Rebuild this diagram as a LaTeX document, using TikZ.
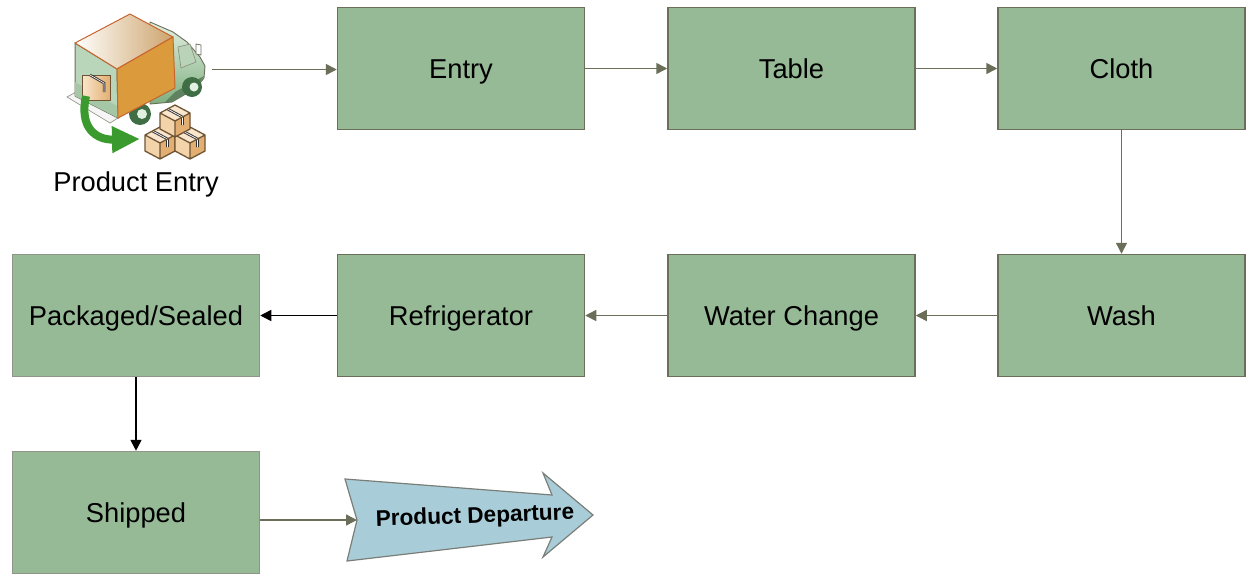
\documentclass[tikz,border=0pt]{standalone}
\usepackage{fontspec}
\setmainfont{Liberation Sans}
\usetikzlibrary{arrows.meta,shapes.geometric}
\definecolor{boxfill}{HTML}{96B996}
\definecolor{boxline}{HTML}{6B6E58}
\definecolor{boxline2}{HTML}{8F9488}
\definecolor{connc}{HTML}{6B6E58}
\definecolor{depfill}{HTML}{A8CDD8}
\definecolor{depline}{HTML}{7A7E78}
\definecolor{orangeE}{HTML}{C8642E}
\definecolor{orangeF}{HTML}{DB9B3C}
\definecolor{tanF}{HTML}{CDA46C}
\definecolor{cabA}{HTML}{E2F0E2}
\definecolor{cabB}{HTML}{7FAF7F}
\definecolor{wheelc}{HTML}{3F6E45}
\definecolor{greenarr}{HTML}{3A9A2E}
\definecolor{crL}{HTML}{F3D3AA}
\definecolor{crR}{HTML}{E3AE72}
\definecolor{crT}{HTML}{F9E6CC}
\definecolor{crE}{HTML}{6F5434}
\tikzset{
  pbox/.style={draw=boxline, line width=1.5pt, fill=boxfill, minimum width=247pt, minimum height=122pt, inner sep=0pt, text height=19.6pt, text depth=0pt, font=\fontsize{27.3}{32}\selectfont},
  pboxg/.style={pbox, draw=boxline2},
  conn/.style={draw=connc, line width=1.5pt, -{Triangle[length=11pt,width=11pt]}},
  connk/.style={draw=black, line width=1.5pt, -{Triangle[length=11pt,width=11pt]}},
  crate/.pic={
    \fill[crL] (-15,8) -- (0,16) -- (0,32) -- (-15,24) -- cycle;
    \fill[crR] (0,16) -- (15,8) -- (15,24) -- (0,32) -- cycle;
    \fill[crT] (0,0) -- (-15,8) -- (0,16) -- (15,8) -- cycle;
    \draw[gray!40!black, line width=2.6pt] (-7.5,4) -- (7.5,12) -- (7.5,20);
    \draw[white, line width=0.7pt] (-7.5,4) -- (7.5,12) -- (7.5,20);
    \draw[crE, line width=1.3pt, line join=round] (0,0) -- (-15,8) -- (-15,24) -- (0,32) -- (15,24) -- (15,8) -- cycle (-15,8) -- (0,16) -- (15,8) (0,16) -- (0,32);
  }
}
\begin{document}
\begin{tikzpicture}[x=1pt,y=-1pt]
\useasboundingbox (0,0) rectangle (1247,576);
% ---------- truck icon ----------
% cab
\shade[top color=cabA, bottom color=cabB, draw=boxline, line width=0.9pt, line join=round]
  (150,22) -- (173,32) -- (187,42) -- (200,57) -- (205,66) -- (204,78) -- (196,88) -- (172,102) -- (150,104) -- cycle;
\fill[cabB!75!black] (204,76) -- (196,88) -- (172,102) -- (165,102) -- (175,92) -- cycle;
\fill[cabB!55!white, draw=boxline!80, line width=0.6pt] (178,47) -- (190,44) -- (196,62) -- (181,68) -- cycle;
\fill[white, draw=boxline, line width=0.7pt] (196,44) -- (201,45) -- (201,55) -- (196,54) -- cycle;
% wheels
\fill[wheelc] (192,87) circle (10);
\fill[cabA] (194,87) circle (4.5);
\fill[wheelc] (140,114) circle (11);
\fill[cabA] (142,114) circle (5);
% ramp
\fill[white!92!gray, draw=boxline!70, line width=0.7pt] (67,97) -- (76,92) -- (118,118) -- (110,123) -- cycle;
% back (open) face
\fill[cabA!60!cabB, draw=boxline, line width=1pt] (75,43) -- (117,69) -- (118,118) -- (75,96) -- cycle;
\fill[cabB!70!white] (75,82) -- (117,106) -- (118,118) -- (75,96) -- cycle;
% top face
\shade[left color=white, right color=tanF, draw=orangeE, line width=1pt, line join=round] (75,43) -- (130,14) -- (173,37) -- (117,69) -- cycle;
% right face
\fill[orangeF, draw=orangeE, line width=1pt, line join=round] (117,69) -- (173,37) -- (175,88) -- (118,118) -- cycle;
% small crate inside
\shade[left color=crT, right color=crR, draw=crE, line width=1pt] (82,75) rectangle (110,100);
\draw[gray!40!black, line width=2.5pt] (90,75) -- (104,83) -- (104,92);
\draw[white, line width=0.6pt] (90,75) -- (104,83) -- (104,92);
% green curved arrow
\draw[greenarr, line width=8pt, -{Triangle[length=28pt,width=25pt]}] (86,96) .. controls (79,128) and (96,140) .. (140,139);
% crates
\pic at (160,127) {crate};
\pic at (190,127) {crate};
\pic at (175,105) {crate};
\coordinate (truckr) at (212,69.5);
\node[font=\fontsize{27.3}{32}\selectfont] (truck) at (136,184) {Product Entry};
% ---------- boxes ----------
\node[pbox] (entry) at (461,68.5) {Entry};
\node[pbox] (table) at (791.5,68.5) {Table};
\node[pbox] (cloth) at (1121.5,68.5) {Cloth};
\node[pbox] (wash) at (1121.5,315.5) {Wash};
\node[pbox] (water) at (791.5,315.5) {Water Change};
\node[pbox] (refrig) at (461,315.5) {Refrigerator};
\node[pboxg] (pack) at (136,315.5) {Packaged/Sealed};
\node[pboxg] (ship) at (136,512.5) {Shipped};
% ---------- departure arrow ----------
\coordinate (notch) at (357,520);
\filldraw[fill=depfill, draw=depline, line width=1.2pt, line join=miter]
  (345,479) -- (552,495) -- (543,473) -- (593,515) -- (543,557) -- (552,537) -- (347,561) -- (notch) -- cycle;
\node[font=\bfseries\fontsize{22.6}{26}\selectfont, rotate=2] (dep) at (475,517) {Product Departure};
% ---------- connectors ----------
\draw[conn] (truckr) -- (entry.west |- truckr);
\draw[conn] (entry) -- (table);
\draw[conn] (table) -- (cloth);
\draw[conn] (cloth) -- (wash);
\draw[conn] (wash) -- (water);
\draw[conn] (water) -- (refrig);
\draw[connk] (refrig) -- (pack);
\draw[connk] (pack) -- (ship);
\draw[conn] (ship.east |- notch) -- (notch);
\end{tikzpicture}
\end{document}
